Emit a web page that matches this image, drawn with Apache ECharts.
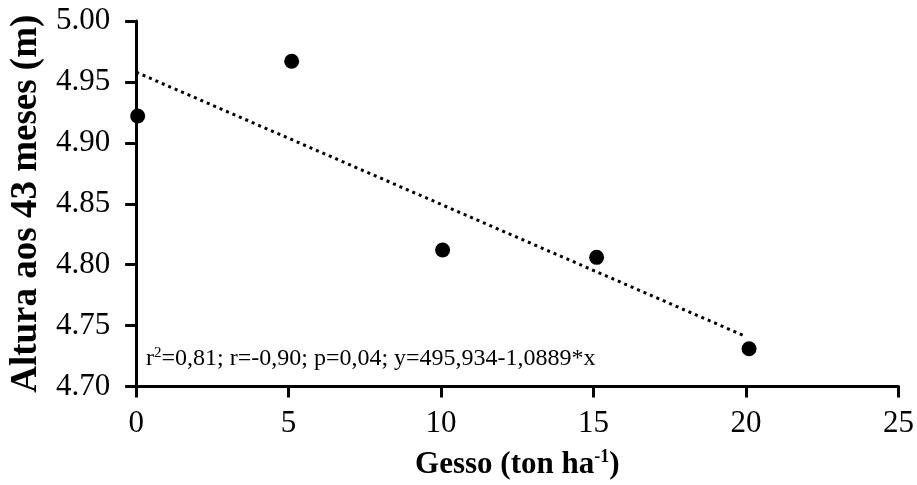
<!DOCTYPE html>
<html>
<head>
<meta charset="utf-8">
<script src="https://cdn.jsdelivr.net/npm/echarts@6/dist/echarts.min.js"></script>
<style>
  html, body { margin: 0; padding: 0; background: #fff; }
  #chart { width: 917px; height: 485px; }
</style>
</head>
<body>
<div id="chart"></div>
<script>
// gesso doses (ton/ha) and mean height at 43 months (m)
var gesso = [0.05, 5.1, 10.05, 15.1, 20.1];
var altura = [4.922, 4.967, 4.812, 4.806, 4.731];
// linear fit, drawn only between first and last dose
var trendX = [0, 20];
var trendY = [4.958, 4.741];
var eqText = 'r{sup|2}=0,81; r=-0,90; p=0,04; y=495,934-1,0889*x';

var serif = '"Liberation Serif", "Times New Roman", serif';

var chart = echarts.init(document.getElementById('chart'));

var pontos = gesso.map(function (g, i) { return [g, altura[i]]; });
var linha = trendX.map(function (x, i) { return [x, trendY[i]]; });

var option = {
  animation: false,
  backgroundColor: '#fff',
  textStyle: { fontFamily: serif, color: '#000' },
  grid: { left: 135, right: 18, top: 21, bottom: 97 },
  xAxis: {
    type: 'value',
    min: 0,
    max: 25,
    interval: 5,
    name: '{b|Gesso (ton ha}{s|-1}{b|)}',
    nameLocation: 'middle',
    nameGap: 62,
    nameTextStyle: {
      rich: {
        b: { fontFamily: serif, fontWeight: 'bold', fontSize: 31, color: '#000' },
        s: { fontFamily: serif, fontWeight: 'bold', fontSize: 18, color: '#000', verticalAlign: 'top', padding: [0, 0, 14, 0] }
      }
    },
    axisLine: { lineStyle: { color: '#000', width: 3 } },
    axisTick: { inside: false, length: 11, lineStyle: { color: '#000', width: 3 } },
    axisLabel: { fontFamily: serif, fontSize: 31, color: '#000', margin: 22 },
    splitLine: { show: false }
  },
  yAxis: {
    type: 'value',
    min: 4.70,
    max: 5.00,
    interval: 0.05,
    name: 'Altura aos 43 meses (m)',
    nameLocation: 'middle',
    nameGap: 87,
    nameTextStyle: { fontFamily: serif, fontWeight: 'bold', fontSize: 37, color: '#000' },
    axisLine: { show: true, lineStyle: { color: '#000', width: 3 } },
    axisTick: { show: true, inside: false, length: 11, lineStyle: { color: '#000', width: 3 } },
    axisLabel: {
      fontFamily: serif, fontSize: 31, color: '#000', margin: 26,
      formatter: function (v) { return v.toFixed(2); }
    },
    splitLine: { show: false }
  },
  series: [
    {
      type: 'line',
      data: linha,
      symbol: 'none',
      lineStyle: { color: '#000', width: 3, type: [3, 4] },
      z: 1
    },
    {
      type: 'scatter',
      data: pontos,
      symbol: 'circle',
      symbolSize: 15,
      itemStyle: { color: '#000', opacity: 1 },
      z: 2
    }
  ],
  graphic: [{
    type: 'text',
    left: 146,
    top: 346,
    style: {
      text: eqText,
      font: '24px ' + serif,
      fill: '#000',
      rich: {
        sup: { fontFamily: serif, fontSize: 15, fill: '#000', verticalAlign: 'top', padding: [0, 0, 10, 0] }
      }
    }
  }]
};

chart.setOption(option);
</script>
</body>
</html>
